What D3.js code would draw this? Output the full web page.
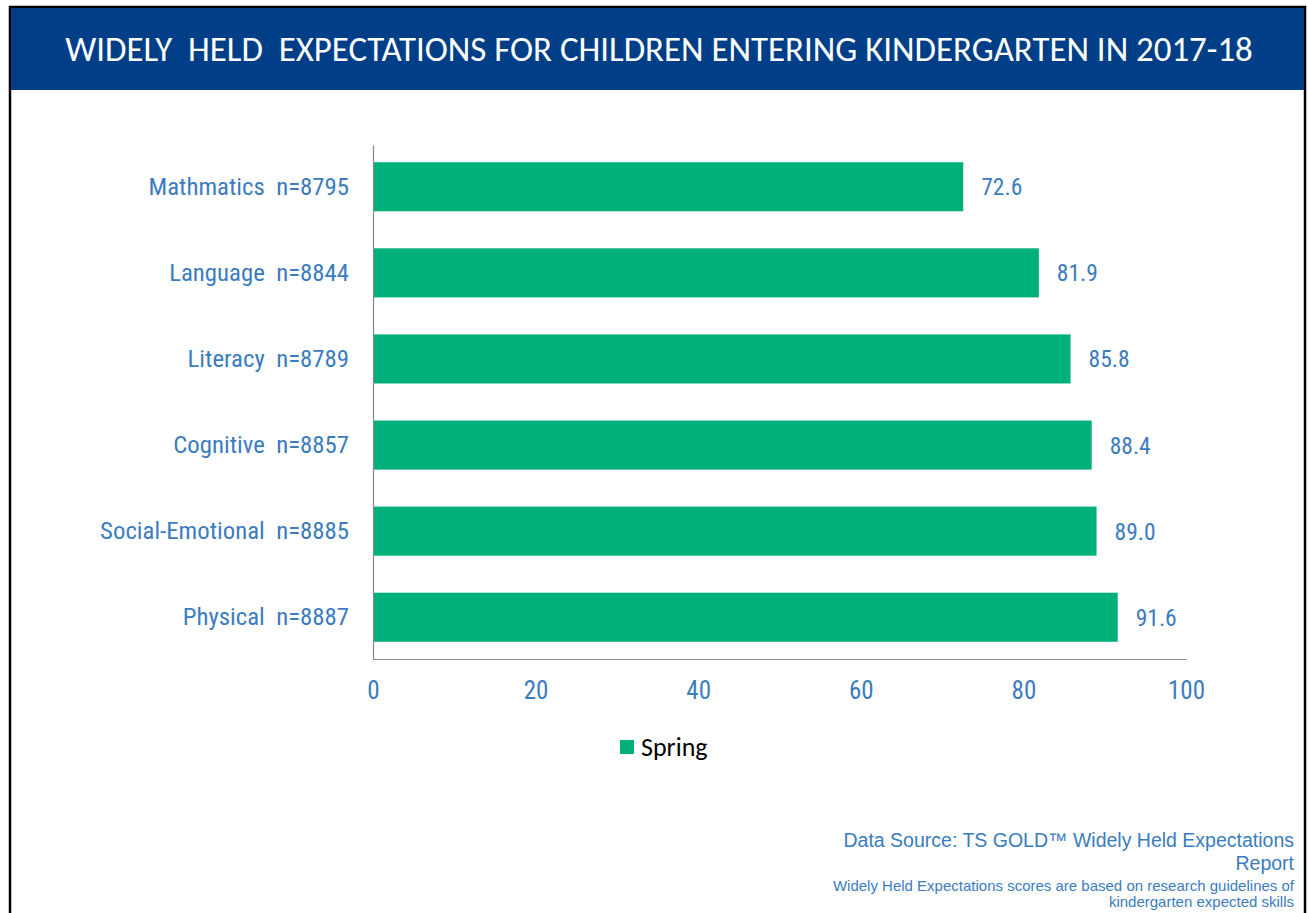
<!DOCTYPE html>
<html>
<head>
<meta charset="utf-8">
<title>Widely Held Expectations</title>
<script src="https://d3js.org/d3.v7.min.js"></script>
<style>
  body { margin: 0; background: #fff; }
</style>
</head>
<body>
<div id="chart"></div>
<script>
// data
const categories = ["Mathmatics  n=8795", "Language  n=8844", "Literacy  n=8789",
                    "Cognitive  n=8857", "Social-Emotional  n=8885", "Physical  n=8887"]
const springValues = [72.6, 81.9, 85.8, 88.4, 89.0, 91.6]
const xTicks = [0, 20, 40, 60, 80, 100]
const seriesName = "Spring"
const titleText = "WIDELY  HELD  EXPECTATIONS FOR CHILDREN ENTERING KINDERGARTEN IN 2017-18"
const sourceLines = ["Data Source: TS GOLD\u2122 Widely Held Expectations", "Report"]
const noteLines = ["Widely Held Expectations scores are based on research guidelines of",
                   "kindergarten expected skills"]

const W = 1308, H = 913
const blue = "#3B7CC0"
const green = "#00B07A"
const narrow = "'Liberation Sans Narrow', 'Arial Narrow', 'Roboto Condensed', sans-serif"
const calibriLike = "Carlito, 'Open Sans', Lato, sans-serif"

const svg = d3.select("#chart").append("svg")
    .attr("width", W).attr("height", H)

// frame + header
svg.append("rect").attr("x", 10).attr("y", 7).attr("width", 1295).attr("height", H)
    .attr("fill", "#fff").attr("stroke", "#000").attr("stroke-width", 2.5)
svg.append("rect").attr("x", 11).attr("y", 8).attr("width", 1293).attr("height", 82)
    .attr("fill", "#003F87")
const title = svg.append("text")
    .attr("x", 659).attr("y", 61)
    .attr("text-anchor", "middle")
    .attr("fill", "#fff")
    .attr("font-family", calibriLike)
    .attr("font-weight", 300)
    .attr("font-size", "28px")
    .style("white-space", "pre")
    .text(titleText)
// size the title so it spans the same width as in the original
const tw = title.node().getComputedTextLength()
title.attr("font-size", (28 * 1188 / tw).toFixed(2) + "px")

// plot area
const x0 = 373, x1 = 1186, yTop = 145, yBot = 659

const xScale = d3.scaleLinear().domain([0, 100]).range([x0, x1])
const yScale = d3.scaleBand().domain(categories).range([yTop, yBot]).paddingInner(0.43).paddingOuter(0.2)

svg.selectAll("rect.bar")
    .data(springValues)
    .enter().append("rect")
    .attr("class", "bar")
    .attr("x", xScale(0))
    .attr("y", (d, i) => yScale(categories[i]))
    .attr("width", d => xScale(d) - xScale(0))
    .attr("height", yScale.bandwidth())
    .attr("fill", green)

svg.selectAll("text.val")
    .data(springValues)
    .enter().append("text")
    .attr("class", "val")
    .attr("x", d => xScale(d) + 18)
    .attr("y", (d, i) => yScale(categories[i]) + yScale.bandwidth() / 2)
    .attr("dy", "0.36em")
    .attr("fill", blue)
    .attr("font-family", narrow)
    .attr("font-size", "23.5px")
    .text(d => d.toFixed(1))

// axes
const xAxis = d3.axisBottom(xScale).tickValues(xTicks).tickSize(0).tickPadding(22)
const gx = svg.append("g").attr("transform", "translate(0," + yBot + ")").call(xAxis)
gx.select(".domain").attr("stroke", "#888").attr("stroke-width", 1.2)
gx.selectAll("text").attr("fill", blue).attr("font-family", narrow).attr("font-size", "25px")

const yAxis = d3.axisLeft(yScale).tickSize(0).tickPadding(24)
const gy = svg.append("g").attr("transform", "translate(" + x0 + ",0)").call(yAxis)
gy.select(".domain").attr("stroke", "#888").attr("stroke-width", 1.2)
gy.selectAll("text").attr("fill", blue).attr("font-family", narrow).attr("font-size", "24.8px")
    .style("white-space", "pre")

// legend
svg.append("rect").attr("x", 620).attr("y", 740).attr("width", 14).attr("height", 14).attr("fill", green)
svg.append("text").attr("x", 641).attr("y", 756)
    .attr("font-family", calibriLike)
    .attr("font-size", "26px").attr("fill", "#000")
    .text(seriesName)

// footer notes
svg.selectAll("text.src").data(sourceLines).enter().append("text")
    .attr("class", "src")
    .attr("x", 1294).attr("y", (d, i) => 847 + i * 23)
    .attr("text-anchor", "end")
    .attr("fill", blue)
    .attr("font-family", "'Liberation Sans', Arial, sans-serif")
    .attr("font-size", "19.5px")
    .text(d => d)

svg.selectAll("text.note").data(noteLines).enter().append("text")
    .attr("class", "note")
    .attr("x", 1294).attr("y", (d, i) => 891 + i * 16)
    .attr("text-anchor", "end")
    .attr("fill", blue)
    .attr("font-family", "'Liberation Sans', Arial, sans-serif")
    .attr("font-size", "15px")
    .text(d => d)
</script>
</body>
</html>
